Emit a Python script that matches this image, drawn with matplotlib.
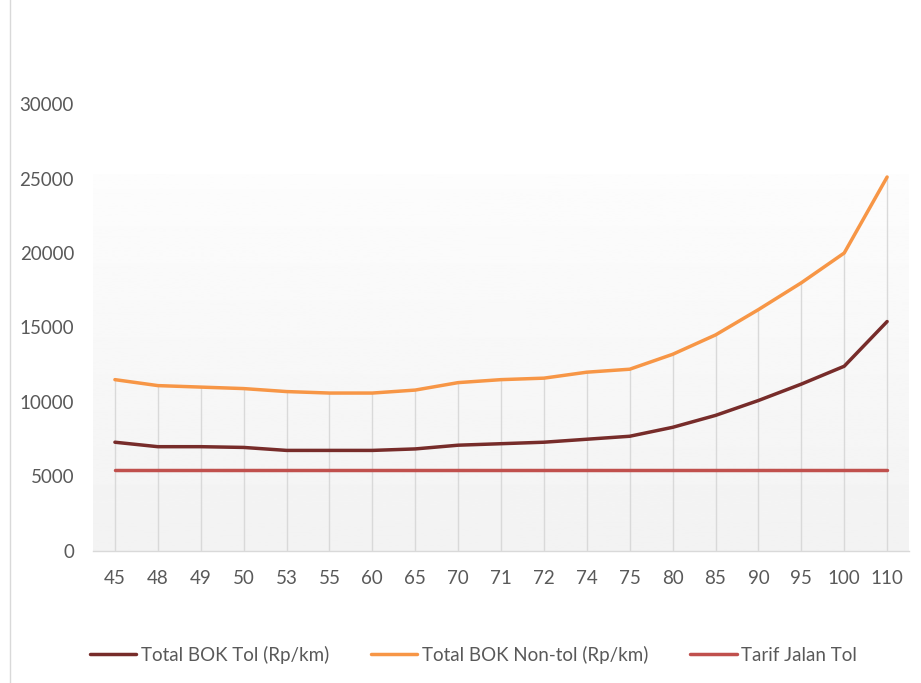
import numpy as np
import matplotlib.pyplot as plt
from matplotlib.lines import Line2D

# Speed categories (km/h) and operating cost per km
speeds = ['45', '48', '49', '50', '53', '55', '60', '65', '70', '71',
          '72', '74', '75', '80', '85', '90', '95', '100', '110']
bok_tol = [7300, 7000, 7000, 6950, 6750, 6750, 6750, 6850, 7100, 7200,
           7300, 7500, 7700, 8300, 9100, 10100, 11200, 12400, 15400]
bok_nontol = [11500, 11100, 11000, 10900, 10700, 10600, 10600, 10800, 11300, 11500,
              11600, 12000, 12200, 13200, 14500, 16200, 18000, 20000, 25100]
tarif_tol = [5450] * len(speeds)

plt.rcParams['font.family'] = ['Lato', 'DejaVu Sans']
text_grey = '#595959'

fig = plt.figure(figsize=(9.21, 6.83), dpi=100)
ax = fig.add_axes([0.1015, 0.1933, 0.885, 0.6544])

x = np.arange(len(speeds))
ax.set_xlim(-0.5, len(speeds) - 0.5)
ax.set_ylim(0, 30000)

# soft vertical gradient behind the plot area
grad = np.linspace(0.95, 0.99, 256).reshape(-1, 1)
ax.imshow(grad, cmap='gray', vmin=0, vmax=1, aspect='auto', origin='lower',
          extent=(-0.5, len(speeds) - 0.5, 0, 25300), zorder=0)

# drop lines from the highest series down to the axis
tops = np.maximum.reduce([bok_tol, bok_nontol, tarif_tol])
ax.vlines(x, 0, tops, color='#D9D9D9', linewidth=1, zorder=1)

ax.plot(x, bok_tol, color='#772C2A', linewidth=2.5, label='Total BOK Tol (Rp/km)',
        solid_capstyle='round', zorder=3)
ax.plot(x, bok_nontol, color='#F79646', linewidth=2.5, label='Total BOK Non-tol (Rp/km)',
        solid_capstyle='round', zorder=3)
ax.plot(x, tarif_tol, color='#C0504D', linewidth=2.5, label='Tarif Jalan Tol',
        solid_capstyle='round', zorder=2)

for side in ['top', 'right', 'left']:
    ax.spines[side].set_visible(False)
ax.spines['bottom'].set_color('#D9D9D9')
ax.spines['bottom'].set_linewidth(1)

ax.set_xticks(x)
ax.set_xticklabels(speeds)
ax.set_yticks(np.arange(0, 30001, 5000))
ax.tick_params(axis='both', length=0, labelsize=13.5, labelcolor=text_grey)
ax.tick_params(axis='x', pad=14)
ax.tick_params(axis='y', pad=14)

fig.legend(loc='center', bbox_to_anchor=(0.514, 0.041), ncol=3, frameon=False,
           fontsize=13.5, labelcolor=text_grey, handlelength=2.5, handletextpad=0.25,
           columnspacing=2.2)

# thin frame line along the left edge
fig.add_artist(Line2D([0.011, 0.011], [0, 1], transform=fig.transFigure,
                      color='#D9D9D9', linewidth=1))

plt.savefig('out.png', dpi=100)
plt.close()
